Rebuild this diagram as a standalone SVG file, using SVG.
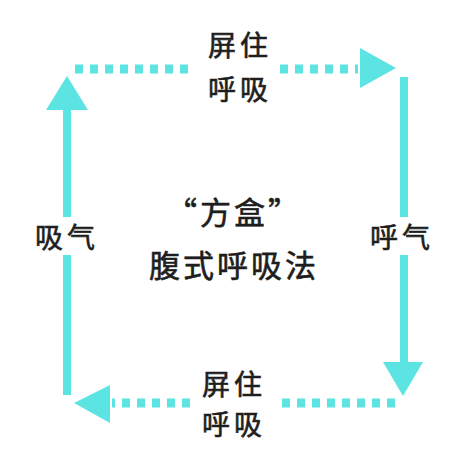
<svg xmlns="http://www.w3.org/2000/svg" width="458" height="455" viewBox="0 0 458 455">
<style>
.t{font-family:"Noto Sans CJK SC","Noto Sans",sans-serif;fill:#1e1e1e;stroke:#1e1e1e;stroke-width:0.6;text-anchor:middle}
.s{font-size:28px;letter-spacing:4px}
.c{font-size:31px;letter-spacing:3px}
.ln{stroke:#5ce4e2;stroke-width:8;fill:none}
.dot{stroke:#5ce4e2;stroke-width:9;stroke-dasharray:8 7;fill:none}
.ah{fill:#5ce4e2}
</style>
<rect width="458" height="455" fill="#ffffff"/>
<g id="connectors">
<path class="dot" d="M75 69 H195"/>
<path class="dot" d="M280 69 H358"/>
<polygon class="ah" points="360,48 396,68 360,88"/>
<path class="ln" d="M404 77 V217"/>
<path class="ln" d="M404 255 V362"/>
<polygon class="ah" points="383,362 423,362 403,396"/>
<path class="dot" d="M395 403 H275"/>
<path class="dot" d="M190 403 H112"/>
<polygon class="ah" points="110,385 74,403 110,423"/>
<path class="ln" d="M67 395 V255"/>
<path class="ln" d="M67 217 V110"/>
<polygon class="ah" points="46,110 88,110 67,76"/>
</g>
<g id="top-label"><text class="t s" x="240" y="56">屏住</text><text class="t s" x="240" y="100">呼吸</text></g>
<g id="bottom-label"><text class="t s" x="234" y="395">屏住</text><text class="t s" x="234" y="435">呼吸</text></g>
<g id="left-label"><text class="t s" x="67" y="248">吸气</text></g>
<g id="right-label"><text class="t s" x="402" y="248">呼气</text></g>
<g id="center"><text class="t c" x="234" y="224">“方盒”</text><text class="t c" x="234" y="277">腹式呼吸法</text></g>
</svg>
